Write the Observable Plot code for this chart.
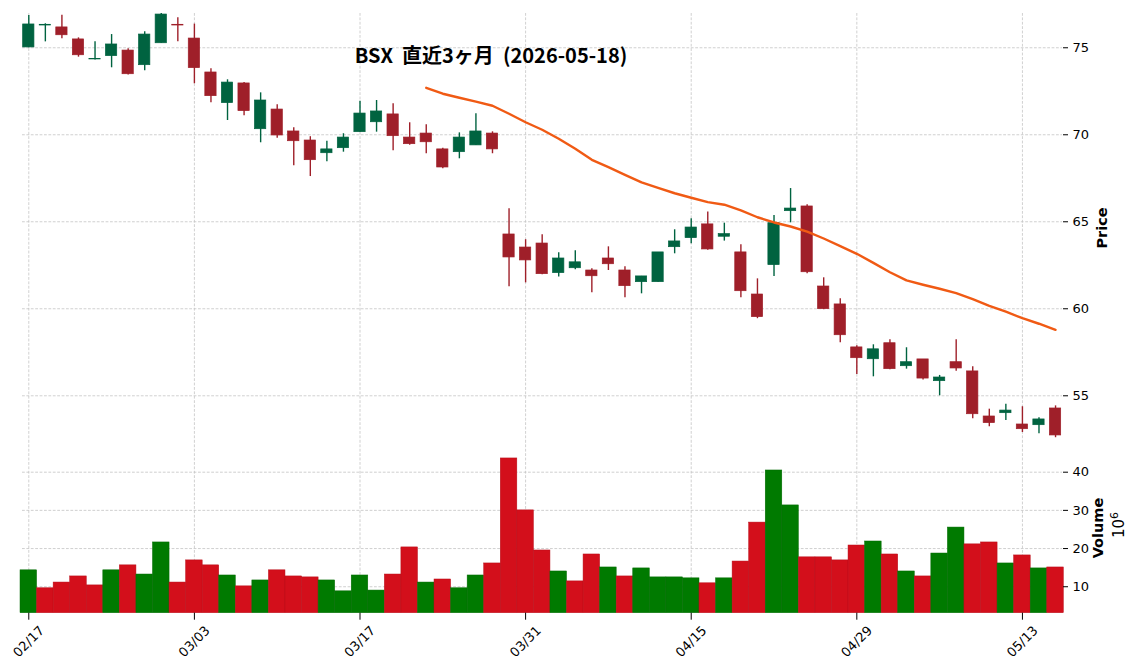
<!DOCTYPE html>
<html>
<head>
<meta charset="utf-8">
<script src="https://cdn.jsdelivr.net/npm/d3@7"></script>
<script src="https://cdn.jsdelivr.net/npm/@observablehq/plot@0.6"></script>
<style>
  html, body { margin: 0; padding: 0; background: #fff; }
  #wrap { position: relative; width: 1144px; height: 670px; overflow: hidden; background: #fff; }
  #wrap svg { display: block; }
  .lbl { position: absolute; white-space: pre; color: #000; }
  .rot { transform: translate(-50%, -50%) rotate(-90deg); }
</style>
</head>
<body>
<div id="wrap">
  <div id="price"></div>
  <div id="volume"></div>
  <div class="lbl" id="title" style="left:491px; top:44.5px; transform:translateX(-50%); font-family:'Noto Sans CJK JP'; font-weight:700; font-size:20px; line-height:20px;">BSX  直近3ヶ月  (2026-05-18)</div>
  <div class="lbl rot" style="left:1102px; top:228px; font-family:'DejaVu Sans'; font-weight:700; font-size:14.5px; line-height:14px;">Price</div>
  <div class="lbl rot" style="left:1098px; top:528px; font-family:'DejaVu Sans'; font-weight:700; font-size:14.5px; line-height:14px;">Volume</div>
  <div class="lbl rot" style="left:1119px; top:524.5px; font-family:'DejaVu Sans'; font-size:15px; line-height:15px;">10<sup style="font-size:11px; vertical-align:6px; line-height:0;">6</sup></div>
</div>
<script>
// ---- data ----
const dates = [
  "2026-02-17","2026-02-18","2026-02-19","2026-02-20","2026-02-23","2026-02-24","2026-02-25","2026-02-26","2026-02-27",
  "2026-03-02","2026-03-03","2026-03-04","2026-03-05","2026-03-06","2026-03-09","2026-03-10","2026-03-11","2026-03-12","2026-03-13",
  "2026-03-16","2026-03-17","2026-03-18","2026-03-19","2026-03-20","2026-03-23","2026-03-24","2026-03-25","2026-03-26","2026-03-27",
  "2026-03-30","2026-03-31",
  "2026-04-01","2026-04-02","2026-04-06","2026-04-07","2026-04-08","2026-04-09","2026-04-10","2026-04-13","2026-04-14","2026-04-15",
  "2026-04-16","2026-04-17","2026-04-20","2026-04-21","2026-04-22","2026-04-23","2026-04-24","2026-04-27","2026-04-28","2026-04-29",
  "2026-04-30","2026-05-01","2026-05-04","2026-05-05","2026-05-06","2026-05-07","2026-05-08","2026-05-11","2026-05-12","2026-05-13",
  "2026-05-14","2026-05-15"
];
const open = [75.02,76.28,76.17,75.48,74.33,74.52,74.84,74.00,75.26,76.32,75.53,73.58,71.82,72.95,70.32,71.45,70.19,69.67,68.94,69.23,
  70.15,70.72,71.17,69.84,70.07,69.16,69.00,69.39,70.07,64.27,63.52,63.75,62.05,62.33,62.20,62.89,62.20,61.53,61.53,63.54,
  64.06,64.85,64.14,63.24,60.82,62.51,65.61,65.88,61.28,60.25,57.78,57.10,58.02,56.70,57.09,55.84,56.93,56.40,53.81,54.00,
  53.35,53.31,54.27];
const high = [76.86,76.38,76.87,75.57,75.34,75.76,74.94,75.92,77.00,76.72,76.36,73.79,73.16,73.00,72.41,71.72,70.40,69.89,69.63,70.06,
  71.93,71.97,71.78,70.69,70.57,69.23,70.11,71.21,70.17,65.75,63.97,64.25,63.22,63.33,62.30,63.56,62.41,61.86,63.24,64.54,
  65.17,65.56,64.92,63.68,61.72,65.36,66.91,65.98,61.78,60.57,57.87,57.93,58.22,57.76,57.09,56.17,58.22,56.67,54.23,54.52,
  54.37,53.74,54.42];
const low = [75.00,75.34,75.52,74.46,74.30,73.85,73.43,73.68,75.26,75.34,72.93,71.84,70.82,71.09,69.54,69.80,68.22,67.60,68.45,69.00,
  70.15,70.15,69.08,69.40,68.91,68.05,68.62,69.39,68.91,61.26,61.49,61.95,61.82,62.24,60.92,62.20,60.63,60.86,61.53,63.16,
  63.74,63.37,63.89,60.63,59.43,61.86,64.94,62.01,59.95,58.05,56.22,56.09,56.50,56.53,55.90,55.00,56.41,53.68,53.22,53.58,
  52.89,52.82,52.59];
const close = [76.34,76.32,75.72,74.57,74.36,75.19,73.48,75.76,76.91,76.28,73.83,72.22,73.00,71.36,71.97,69.96,69.63,68.54,69.16,69.84,
  71.22,71.34,69.92,69.46,69.57,68.12,69.84,70.19,69.16,62.95,62.78,61.99,62.89,62.67,61.87,62.56,61.30,61.86,63.24,63.87,
  64.67,63.41,64.29,61.01,59.52,64.92,65.76,62.10,59.98,58.48,57.16,57.67,56.53,56.93,55.99,56.05,56.57,53.94,53.43,54.15,
  53.08,53.64,52.72];
// volume in millions of shares
const volume = [14.3,9.6,11.1,12.7,10.35,14.3,15.6,13.2,21.6,11.1,16.9,15.6,12.95,10.1,11.65,14.3,12.7,12.45,11.65,8.8,
  12.95,9.0,13.2,20.3,11.1,11.9,9.6,12.95,16.1,43.6,30.0,19.5,14.0,11.4,18.45,15.05,12.7,14.8,12.45,12.45,
  12.2,10.9,12.2,16.6,26.8,40.45,31.3,17.7,17.7,16.9,20.8,21.85,18.45,14.0,12.7,18.7,25.5,21.1,21.6,16.1,
  18.2,14.8,15.05];
// 25-day moving average (starts at the 25th session)
const ma25 = [null,null,null,null,null,null,null,null,null,null,null,null,null,null,null,null,null,null,null,null,null,null,null,null,
  72.70,72.36,72.13,71.91,71.67,71.21,70.72,70.29,69.77,69.20,68.56,68.14,67.70,67.26,66.95,66.64,
  66.38,66.13,65.98,65.65,65.26,64.96,64.73,64.44,64.04,63.60,63.16,62.64,62.10,61.63,61.38,61.15,60.90,60.55,60.17,59.83,
  59.46,59.14,58.79];
const tickIndex = [0,10,20,30,40,50,60];
const priceTicks = [55,60,65,70,75];
const volumeTicks = [10,20,30,40];

// ---- build table ----
const rows = dates.map((d, i) => ({
  i, date: d, open: open[i], high: high[i], low: low[i], close: close[i], vol: volume[i], ma: ma25[i],
  up: close[i] >= open[i],
  volUp: i === 0 ? true : close[i] >= close[i - 1]
}));
const maRows = rows.filter(r => r.ma != null);

const UP = "#006340", DOWN = "#9f1f29";
const VUP = "#007a00", VDOWN = "#d30f1b";
const VUP_E = "#006a00", VDOWN_E = "#b80d18";
const GRID = {stroke: "#c4c4c4", strokeOpacity: 1, strokeWidth: 0.8, strokeDasharray: "2.8,1.6"};
const xDomain = [-0.38, 62.42];
const W = 1144, ML = 22, MR = 82;

const pricePlot = Plot.plot({
  width: W, height: 440,
  marginLeft: ML, marginRight: MR, marginTop: 13, marginBottom: 0,
  x: {domain: xDomain, axis: null},
  y: {domain: [52.43, 76.97], axis: null},
  color: {type: "identity"},
  style: {fontFamily: "DejaVu Sans", fontSize: "13px", background: "white", color: "black", overflow: "visible"},
  marks: [
    Plot.ruleX(tickIndex, GRID),
    Plot.ruleY(priceTicks, GRID),
    Plot.axisY({anchor: "right", ticks: priceTicks, tickSize: 5, tickPadding: 5, label: null, fontSize: 13}),
    Plot.ruleX(rows, {x: "i", y1: "low", y2: "high", stroke: d => d.up ? UP : DOWN, strokeWidth: 1.4, clip: true}),
    Plot.rect(rows, {x1: d => d.i - 0.34, x2: d => d.i + 0.34, y1: "open", y2: "close",
      fill: d => d.up ? UP : DOWN, stroke: d => d.up ? UP : DOWN, strokeWidth: 0.7, clip: true}),
    Plot.line(maRows, {x: "i", y: "ma", stroke: "#f05a14", strokeWidth: 2.4, curve: "linear"})
  ]
});

const volPlot = Plot.plot({
  width: W, height: 230,
  marginLeft: ML, marginRight: MR, marginTop: 0, marginBottom: 57.3,
  x: {domain: xDomain, axis: null},
  y: {domain: [3.07, 48.3], axis: null},
  color: {type: "identity"},
  style: {fontFamily: "DejaVu Sans", fontSize: "13px", background: "white", color: "black", overflow: "visible"},
  marks: [
    Plot.ruleX(tickIndex, GRID),
    Plot.ruleY(volumeTicks, GRID),
    Plot.rect(rows, {x1: d => d.i - 0.5, x2: d => d.i + 0.5, y1: 3.07, y2: "vol",
      fill: d => d.volUp ? VUP : VDOWN, stroke: d => d.volUp ? VUP_E : VDOWN_E, strokeWidth: 0.5}),
    Plot.axisY({anchor: "right", ticks: volumeTicks, tickSize: 5, tickPadding: 5, label: null, fontSize: 13}),
    Plot.axisX({anchor: "bottom", ticks: tickIndex, tickSize: 7, tickFormat: () => "", label: null}),
    Plot.text(tickIndex, {x: d => d, frameAnchor: "bottom", dy: 28.5, text: d => dates[d].slice(5).replace("-", "/"),
      rotate: -45, textAnchor: "middle", lineAnchor: "middle", fontSize: 13, fill: "black"})
  ]
});

document.getElementById("price").appendChild(pricePlot);
document.getElementById("volume").appendChild(volPlot);
</script>
</body>
</html>
